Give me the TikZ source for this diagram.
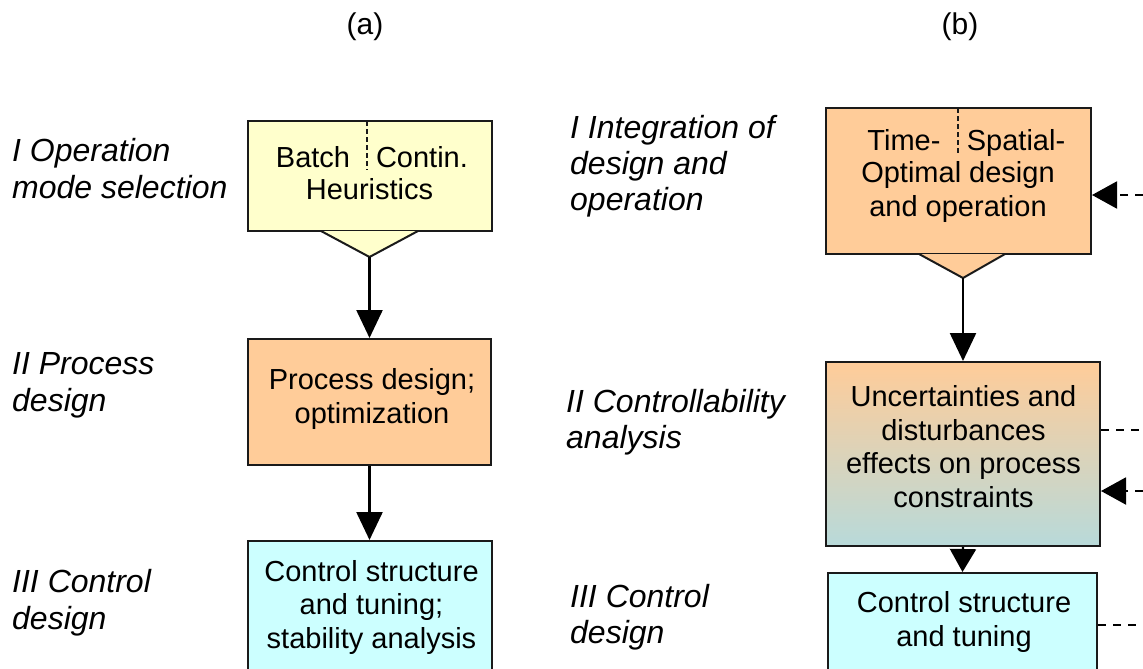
\documentclass[tikz,border=0pt]{standalone}
\usepackage{fontspec}
\setmainfont{Liberation Sans}
\usetikzlibrary{arrows.meta}
\definecolor{cyel}{HTML}{FFFFCC}
\definecolor{corg}{HTML}{FFCC99}
\definecolor{ccyn}{HTML}{CCFFFF}
\definecolor{cgry}{HTML}{B8DADA}
\definecolor{cbrd}{HTML}{1A1A1A}
\tikzset{
  boxn/.style={draw=cbrd, line width=2pt, rectangle, inner sep=0pt},
  txt/.style={inner sep=0pt, anchor=base, align=center, font=\fontsize{29}{33.5}\selectfont},
  lbl/.style={inner sep=0pt, anchor=base west, align=left, font=\fontsize{32}{37}\selectfont\itshape},
  lblr/.style={lbl, font=\fontsize{32}{36}\selectfont\itshape},
  hd/.style={inner sep=0pt, anchor=base, font=\fontsize{30}{34}\selectfont},
  divider/.style={draw=cbrd, line width=1.2pt, dash pattern=on 5pt off 3pt},
  conn/.style={draw=black, line width=2.4pt, -{Triangle[length=28pt,width=26pt]}},
  connb/.style={draw=black, line width=2.4pt, -{Triangle[length=23pt,width=26pt]}},
  dconn/.style={draw=black, line width=2pt, dash pattern=on 8pt off 7pt},
  dconna/.style={dconn, -{Triangle[length=25pt,width=27pt]}},
}
\begin{document}
\begin{tikzpicture}[x=1pt,y=-1pt]
\useasboundingbox (0,0) rectangle (1143,669);
% headings
\node[hd] (ha) at (365,35) {(a)};
\node[hd] (hb) at (960,35) {(b)};
% left labels
\node[lbl] (la1) at (12,198) {I Operation\\mode selection};
\node[lbl] (la2) at (12,411) {II Process\\design};
\node[lbl] (la3) at (12,629) {III Control\\design};
% right labels
\node[lblr] (lb1) at (570,210) {I Integration of\\design and\\operation};
\node[lblr] (lb2) at (566,448) {II Controllability\\analysis};
\node[lblr] (lb3) at (570,643) {III Control\\design};
% ---------- column (a)
\node[boxn, fill=cyel, minimum width=244pt, minimum height=110pt] (a1) at (369.5,176) {};
\coordinate (a1t) at (369.5,257);
\filldraw[fill=cyel, draw=cbrd, line width=2pt, line join=miter] (321,231) -- (a1t) -- (418,231);
\draw[divider] (367,121) -- (367,170);
\node[txt] (a1b) at (313,167) {Batch};
\node[txt] (a1c) at (422,167) {Contin.};
\node[txt] (a1h) at (369.5,199) {Heuristics};
\node[boxn, fill=corg, minimum width=243pt, minimum height=126pt] (a2) at (369.5,402) {};
\node[txt] (a2t) at (372,423) {Process design;\\optimization};
\node[boxn, fill=ccyn, minimum width=244pt, minimum height=170pt] (a3) at (369.5,626) {};
\node[txt] (a3t) at (371.5,648) {Control structure\\and tuning;\\stability analysis};
\draw[conn] (a1t) -- (a2.north);
\draw[conn] (a2.south) -- (a3.north);
% ---------- column (b)
\node[boxn, fill=corg, minimum width=265pt, minimum height=146pt] (b1) at (958.5,181) {};
\coordinate (b1t) at (963,278);
\filldraw[fill=corg, draw=cbrd, line width=2pt, line join=miter] (919,254) -- (b1t) -- (1005,254);
\draw[divider] (958,108) -- (958,153);
\node[txt] (b1a) at (904,150) {Time-};
\node[txt] (b1b) at (1016,150) {Spatial-};
\node[txt] (b1c) at (958,216) {Optimal design\\and operation};
\node[boxn, top color=corg, bottom color=cgry, middle color=corg!50!cgry, minimum width=274pt, minimum height=184pt] (b2) at (963,454) {};
\node[txt] (b2t) at (963.5,507) {Uncertainties and\\disturbances\\effects on process\\constraints};
\node[boxn, fill=ccyn, minimum width=269pt, minimum height=150pt] (b3) at (962.5,648) {};
\node[txt] (b3t) at (964,646) {Control structure\\and tuning};
\draw[conn] (b1t) -- (b2.north);
\draw[connb] (b2.south) -- (b3.north);
% dashed side connectors
\coordinate (e1) at (1143,195);
\coordinate (e2) at (1143,430);
\coordinate (e3) at (1143,491);
\coordinate (e4) at (1143,625);
\draw[dconna] (e1) -- (b1.east |- e1);
\draw[dconn] (b2.east |- e2) -- (e2);
\draw[dconna] (e3) -- (b2.east |- e3);
\draw[dconn] (b3.east |- e4) -- (e4);
\end{tikzpicture}
\end{document}
